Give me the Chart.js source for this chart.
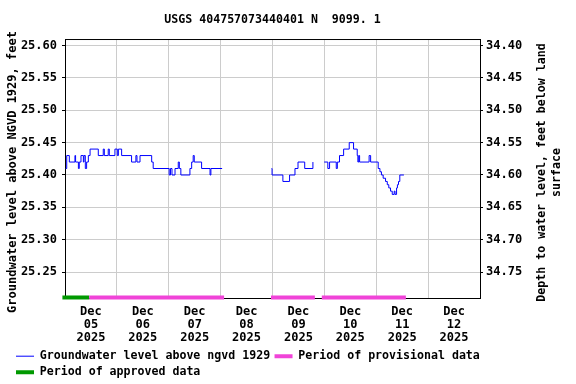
<!DOCTYPE html>
<html>
<head>
<meta charset="utf-8">
<title>USGS 404757073440401 N  9099. 1</title>
<script src="https://cdn.jsdelivr.net/npm/chart.js@4.4.1/dist/chart.umd.min.js"></script>
<style>
  html, body { margin: 0; padding: 0; background: #fff; }
  #wrap { width: 576px; height: 384px; position: relative; }
</style>
</head>
<body>
<div id="wrap"><canvas id="gwChart"></canvas></div>
<script>
// hours after Dec 05 2025 00:00, level in feet above NGVD 1929
const hoursA = [0.3, 0.8, 2.0, 4.6, 4.9, 6.2, 6.6, 7.4, 8.5, 8.8, 9.4, 10.0, 10.8, 11.6, 15.4, 17.7, 18.2, 20.0, 20.5, 23.1, 24.2, 24.7, 26.2, 30.8, 32.8, 33.3, 34.7, 40.1, 40.8, 48.2, 48.8, 49.5, 50.9, 52.4, 52.9, 53.6, 57.8, 58.6, 59.3, 59.8, 63.2, 67.1, 67.5, 72.7];
const levelsA = [25.41, 25.43, 25.42, 25.43, 25.42, 25.41, 25.42, 25.43, 25.42, 25.43, 25.41, 25.42, 25.43, 25.44, 25.43, 25.44, 25.43, 25.44, 25.43, 25.44, 25.43, 25.44, 25.43, 25.42, 25.43, 25.42, 25.43, 25.42, 25.41, 25.40, 25.41, 25.40, 25.41, 25.42, 25.41, 25.40, 25.41, 25.42, 25.43, 25.42, 25.41, 25.40, 25.41, 25.41];

const hoursB = [95.6, 95.8, 100.8, 103.9, 106.4, 107.8, 110.9, 114.7];
const levelsB = [25.41, 25.40, 25.39, 25.40, 25.41, 25.42, 25.41, 25.42];

const hoursC = [119.9, 121.6, 122.4, 125.5, 126.0, 127.0, 128.9, 131.5, 133.5, 135.2, 135.5, 135.9, 136.3, 140.7, 141.4, 144.9, 145.7, 146.4, 147.2, 148.3, 149.1, 149.8, 150.6, 151.4, 152.3, 152.7, 153.4, 153.8, 154.3, 154.9, 156.8];
const levelsC = [25.42, 25.41, 25.42, 25.41, 25.42, 25.43, 25.44, 25.45, 25.44, 25.43, 25.42, 25.43, 25.42, 25.43, 25.42, 25.41, 25.405, 25.40, 25.395, 25.39, 25.385, 25.38, 25.375, 25.37, 25.375, 25.37, 25.38, 25.385, 25.39, 25.40, 25.40];

// data-approval periods (start hour, end hour)
const approvedPeriods = [[-1.2, 11.2]];
const provisionalPeriods = [[11.2, 73.6], [95.3, 115.6], [118.8, 157.7]];
const flagLevel = 25.2108;

const dayLabels = ['05', '06', '07', '08', '09', '10', '11', '12'];
const leftTicks = [25.25, 25.30, 25.35, 25.40, 25.45, 25.50, 25.55, 25.60];
const rightTicks = [34.40, 34.45, 34.50, 34.55, 34.60, 34.65, 34.70, 34.75];
const datumOffset = 60.0; // depth = 60 - level

const yMin = 25.21;
const yMax = 25.61;

const FONT = 'DejaVu Sans Mono';

function joinSegments(segs) {
  const out = [];
  segs.forEach((s, i) => {
    if (i > 0) out.push({ x: (s[0][0] + out[out.length - 1].x) / 2, y: null });
    s[0].forEach((h, j) => out.push({ x: h, y: s[1][j] }));
  });
  return out;
}

function periodPoints(periods) {
  const out = [];
  periods.forEach((p, i) => {
    if (i > 0) out.push({ x: p[0] - 0.5, y: null });
    out.push({ x: p[0], y: flagLevel });
    out.push({ x: p[1], y: flagLevel });
  });
  return out;
}

const axisTitles = {
  id: 'axisTitles',
  afterDraw(chart) {
    const { ctx } = chart;
    ctx.save();
    ctx.fillStyle = '#000';
    ctx.font = 'bold 12px "' + FONT + '"';
    ctx.textAlign = 'center';
    ctx.textBaseline = 'middle';
    ctx.translate(12.5, 172);
    ctx.rotate(-Math.PI / 2);
    ctx.fillText('Groundwater level above NGVD 1929, feet', 0, 0);
    ctx.restore();

    ctx.save();
    ctx.fillStyle = '#000';
    ctx.font = 'bold 11.6px "' + FONT + '"';
    ctx.textAlign = 'center';
    ctx.textBaseline = 'middle';
    ctx.translate(542, 172.5);
    ctx.rotate(-Math.PI / 2);
    ctx.fillText('Depth to water level, feet below land', 0, 0);
    ctx.fillText('surface', 0, 15);
    ctx.restore();
  }
};

const topBorder = {
  id: 'topBorder',
  beforeDatasetsDraw(chart) {
    const { ctx, chartArea } = chart;
    ctx.save();
    ctx.strokeStyle = '#000';
    ctx.lineWidth = 1;
    ctx.beginPath();
    ctx.moveTo(chartArea.left, chartArea.top + 0.5);
    ctx.lineTo(chartArea.right, chartArea.top + 0.5);
    ctx.stroke();
    ctx.restore();
  }
};

const ctx = document.getElementById('gwChart');

new Chart(ctx, {
  type: 'line',
  data: {
    datasets: [
      {
        label: 'Groundwater level above ngvd 1929',
        data: joinSegments([[hoursA, levelsA], [hoursB, levelsB], [hoursC, levelsC]]),
        borderColor: '#0000ff',
        backgroundColor: '#0000ff',
        borderWidth: 1,
        pointRadius: 0,
        stepped: true,
        spanGaps: false,
        yAxisID: 'y'
      },
      {
        label: 'Period of provisional data',
        data: periodPoints(provisionalPeriods),
        borderColor: '#f044d8',
        backgroundColor: '#f044d8',
        borderWidth: 4,
        pointRadius: 0,
        spanGaps: false,
        clip: false,
        yAxisID: 'y'
      },
      {
        label: 'Period of approved data',
        data: periodPoints(approvedPeriods),
        borderColor: '#009900',
        backgroundColor: '#009900',
        borderWidth: 4,
        pointRadius: 0,
        spanGaps: false,
        clip: false,
        yAxisID: 'y'
      }
    ]
  },
  options: {
    responsive: true,
    maintainAspectRatio: false,
    animation: false,
    layout: { padding: { left: 11.6, right: 0, top: 0, bottom: -4 } },
    plugins: {
      title: {
        display: true,
        fullSize: false,
        text: 'USGS 404757073440401 N  9099. 1',
        color: '#000',
        font: { family: FONT, size: 11.6, weight: 'bold', lineHeight: 1.2 },
        padding: { top: 13, bottom: 12.1 }
      },
      legend: {
        position: 'bottom',
        align: 'start',
        labels: {
          color: '#000',
          font: { family: FONT, size: 11.6, weight: 'bold' },
          usePointStyle: true,
          pointStyle: 'line',
          pointStyleWidth: 18,
          boxWidth: 18,
          padding: 4.4
        }
      },
      tooltip: { enabled: false }
    },
    scales: {
      x: {
        type: 'linear',
        min: 0,
        max: 192,
        afterBuildTicks: (scale) => {
          const t = [];
          for (let h = 0; h <= 192; h += 12) t.push({ value: h });
          scale.ticks = t;
        },
        afterFit: (scale) => { scale.height = 48; },
        border: { display: true, color: '#000' },
        grid: {
          drawTicks: false,
          color: (c) => (c.tick && c.tick.value % 24 === 0 ? '#cccccc' : 'rgba(0,0,0,0)')
        },
        ticks: {
          autoSkip: false,
          maxRotation: 0,
          padding: 7.5,
          color: '#000',
          font: { family: FONT, size: 12, weight: 'bold', lineHeight: 1.08 },
          callback: (v) => {
            if (v % 24 !== 12) return '';
            const i = Math.floor(v / 24);
            return ['Dec', dayLabels[i], '2025'];
          }
        }
      },
      y: {
        position: 'left',
        min: yMin,
        max: yMax,
        afterBuildTicks: (scale) => { scale.ticks = leftTicks.map((v) => ({ value: v })); },
        afterFit: (scale) => { scale.width = 53.4; },
        border: { display: true, color: '#000' },
        grid: { color: '#cccccc', tickColor: '#000', tickLength: 3 },
        ticks: {
          padding: 5,
          color: '#000',
          font: { family: FONT, size: 12, weight: 'bold' },
          callback: (v) => v.toFixed(2)
        }
      },
      y2: {
        position: 'right',
        reverse: true,
        min: datumOffset - yMax,
        max: datumOffset - yMin,
        afterBuildTicks: (scale) => { scale.ticks = rightTicks.map((v) => ({ value: v })); },
        afterFit: (scale) => { scale.width = 96; },
        border: { display: true, color: '#000' },
        grid: { drawOnChartArea: false, tickColor: '#000', tickLength: 3 },
        ticks: {
          padding: 3,
          color: '#000',
          font: { family: FONT, size: 12, weight: 'bold' },
          callback: (v) => v.toFixed(2)
        }
      }
    }
  },
  plugins: [axisTitles, topBorder]
});
</script>
</body>
</html>
